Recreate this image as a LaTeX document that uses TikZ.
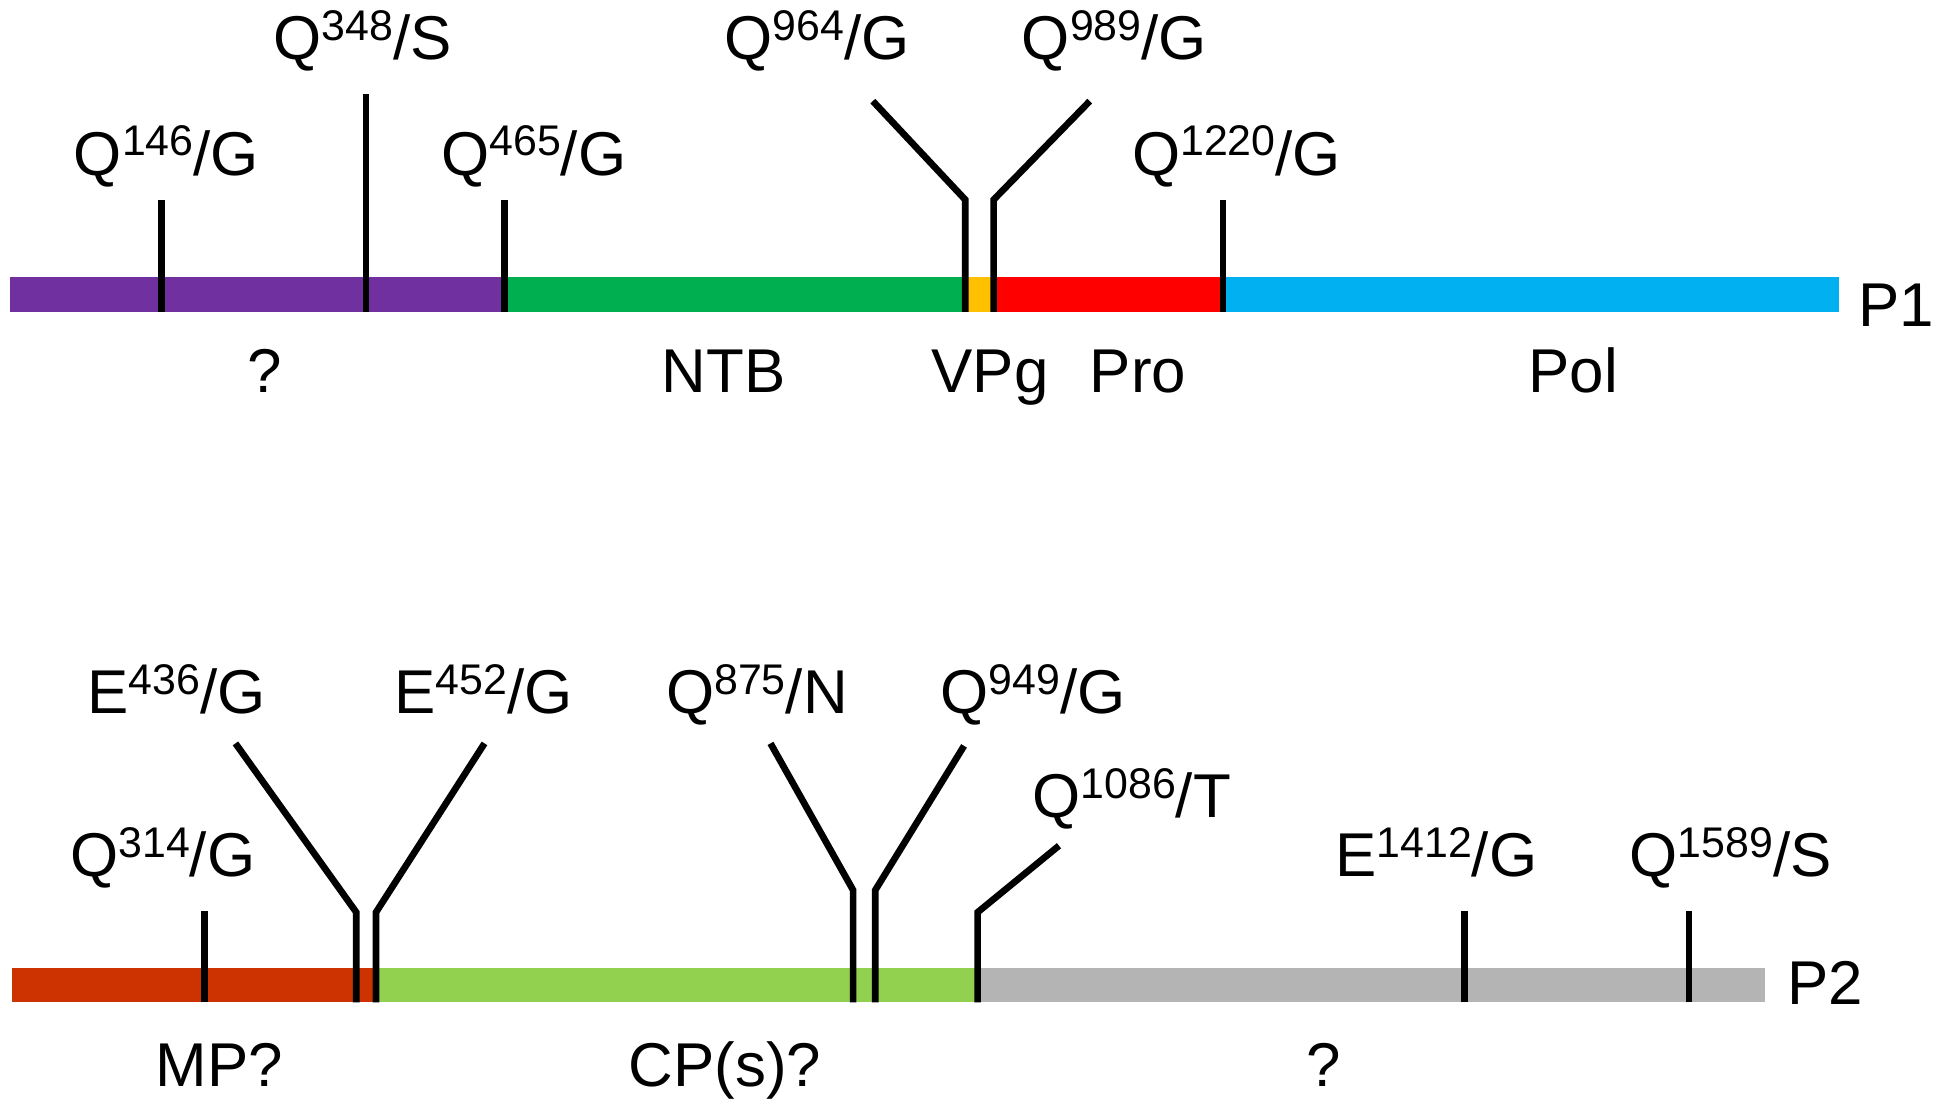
\documentclass[tikz,border=0pt]{standalone}
\usepackage{fontspec}
\setmainfont{Liberation Sans}
\usetikzlibrary{calc}
\usepackage{xcolor}

\definecolor{hypopurple}{HTML}{7030A0}
\definecolor{ntbgreen}{HTML}{00B050}
\definecolor{vpgyellow}{HTML}{FFC000}
\definecolor{prored}{HTML}{FF0000}
\definecolor{polblue}{HTML}{00B0F0}
\definecolor{mpred}{HTML}{CC3300}
\definecolor{cpgreen}{HTML}{92D050}
\definecolor{restgray}{HTML}{B4B4B4}

\newcommand{\site}[3]{#1\raisebox{0.31em}{\fontsize{12.2}{13}\selectfont #2}/#3}

\begin{document}
\begin{tikzpicture}[x=0.12328mm,y=-0.12328mm,
  cut/.style={line width=1.9pt,black},
  lbl/.style={anchor=base,inner sep=0pt,font=\fontsize{17.6}{21}\selectfont}]
\newcommand{\cutstraight}[4]{
  \coordinate (#1b) at (#2,#4);
  \coordinate (#1t) at (#2,#3);
  \draw[cut] (#1b) -- (#1t);
}
\newcommand{\cutbent}[6]{
  \coordinate (#1b) at (#2,#6);
  \coordinate (#1k) at (#2,#3);
  \coordinate (#1t) at (#4,#5);
  \draw[cut] (#1b) -- (#1k) -- (#1t);
}

\useasboundingbox (0,0) rectangle (1568,900);

% P1 polyprotein
\fill[hypopurple] (8,225) rectangle (410,253);
\fill[ntbgreen] (410,225) rectangle (783,253);
\fill[vpgyellow] (783,225) rectangle (806,253);
\fill[prored] (806,225) rectangle (992,253);
\fill[polblue] (992,225) rectangle (1492,253);
\node[lbl,anchor=base west] (p1) at (1507,265) {P1};

\cutstraight{c146}{131}{162}{253}
\cutstraight{c348}{297}{76}{253}
\cutstraight{c465}{409}{162}{253}
\cutbent{c964}{783}{162}{708}{82}{253}
\cutbent{c989}{806}{162}{884}{82}{253}
\cutstraight{c1220}{992}{162}{253}

\node[lbl] (l146) at (135,142) {\site{Q}{146}{G}};
\node[lbl] (l348) at (294,48) {\site{Q}{348}{S}};
\node[lbl] (l465) at (433,142) {\site{Q}{465}{G}};
\node[lbl] (l964) at (663,48) {\site{Q}{964}{G}};
\node[lbl] (l989) at (904,48) {\site{Q}{989}{G}};
\node[lbl] (l1220) at (1003,142) {\site{Q}{1220}{G}};

\node[lbl] (d1) at (215,318) {?};
\node[lbl] (ntb) at (587,318) {NTB};
\node[lbl] (vpg) at (803,318) {VPg};
\node[lbl] (pro) at (923,318) {Pro};
\node[lbl] (pol) at (1276,318) {Pol};

% P2 polyprotein
\fill[mpred] (10,785) rectangle (305,813);
\fill[cpgreen] (305,785) rectangle (793,813);
\fill[restgray] (793,785) rectangle (1432,813);
\node[lbl,anchor=base west] (p2) at (1449,815) {P2};

\cutstraight{c314}{166}{739}{813}
\cutbent{c436}{289}{740}{191}{603}{813}
\cutbent{c452}{305}{740}{393}{603}{813}
\cutbent{c875}{692}{722}{625}{603}{813}
\cutbent{c949}{710}{722}{782}{605}{813}
\cutbent{c1086}{793}{740}{859}{686}{813}
\cutstraight{c1412}{1188}{739}{813}
\cutstraight{c1589}{1370}{739}{813}

\node[lbl] (l314) at (132,711) {\site{Q}{314}{G}};
\node[lbl] (l436) at (143,579) {\site{E}{436}{G}};
\node[lbl] (l452) at (392,579) {\site{E}{452}{G}};
\node[lbl] (l875) at (614,579) {\site{Q}{875}{N}};
\node[lbl] (l949) at (838,579) {\site{Q}{949}{G}};
\node[lbl] (l1086) at (918,663) {\site{Q}{1086}{T}};
\node[lbl] (l1412) at (1165,711) {\site{E}{1412}{G}};
\node[lbl] (l1589) at (1404,711) {\site{Q}{1589}{S}};

\node[lbl] (mp) at (178,881) {MP?};
\node[lbl] (cp) at (588,881) {CP(s)?};
\node[lbl] (d2) at (1074,881) {?};

\end{tikzpicture}
\end{document}
